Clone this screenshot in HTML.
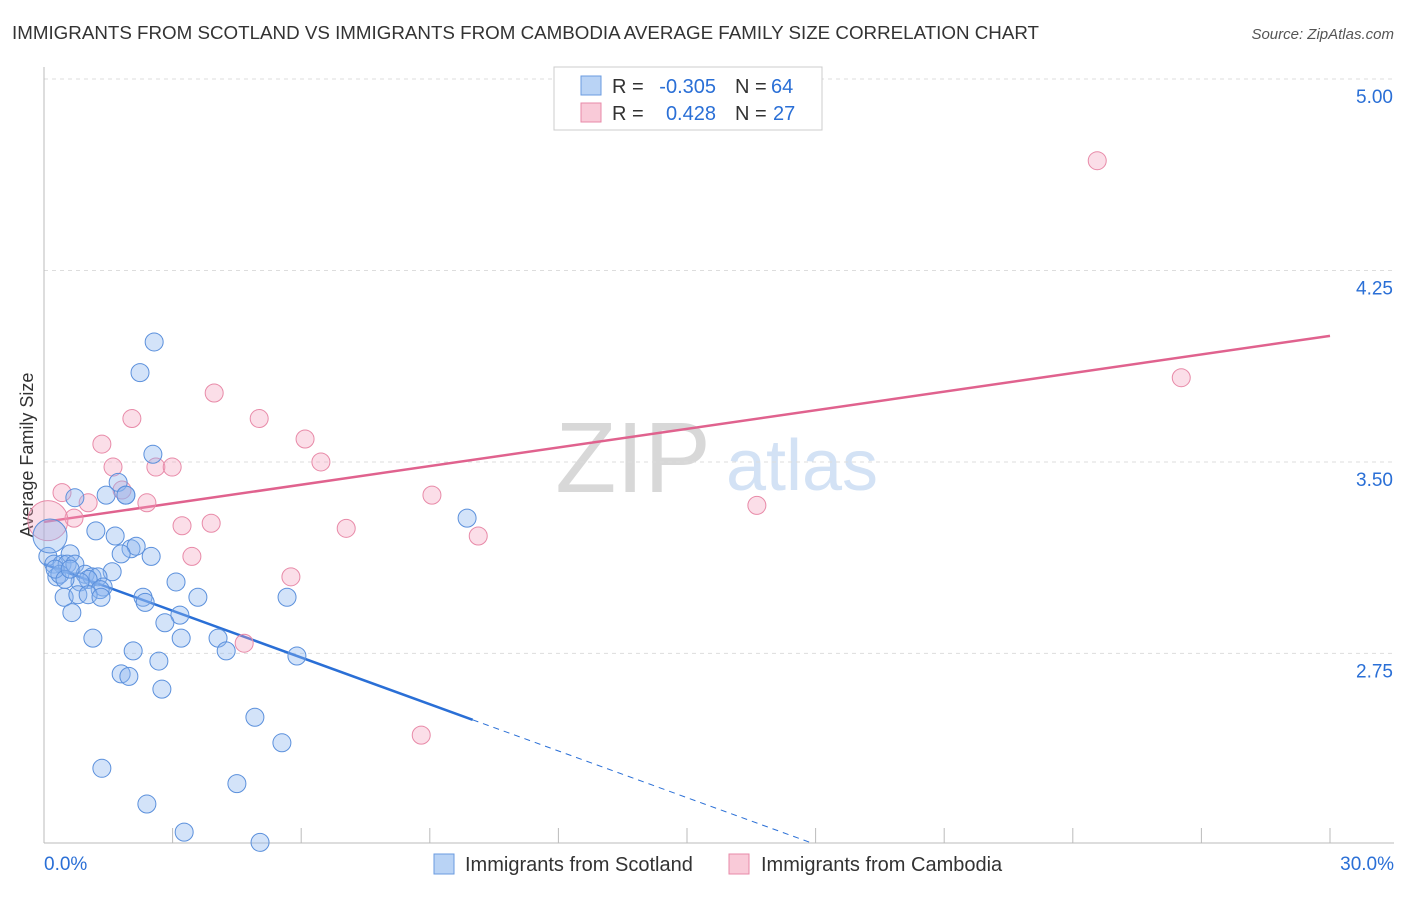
<!DOCTYPE html>
<html><head><meta charset="utf-8"><style>
body{margin:0;background:#fff;font-family:"Liberation Sans",sans-serif}
svg text{font-family:"Liberation Sans",sans-serif}
</style></head><body>
<svg width="1406" height="892">
<text x="12" y="39" font-size="18.5" fill="#333" textLength="1027" lengthAdjust="spacingAndGlyphs">IMMIGRANTS FROM SCOTLAND VS IMMIGRANTS FROM CAMBODIA AVERAGE FAMILY SIZE CORRELATION CHART</text>
<text x="1394" y="39" font-size="15" fill="#555" text-anchor="end" font-style="italic">Source: ZipAtlas.com</text>
<text x="33" y="455" font-size="18" fill="#333" text-anchor="middle" transform="rotate(-90 33 455)">Average Family Size</text>
<g><text x="633" y="492" font-size="100" fill="#d8d8d8" font-family="Liberation Serif" text-anchor="middle">ZIP</text><text x="802" y="490" font-size="72" fill="#d3e2f5" text-anchor="middle">atlas</text></g>
<g id="grid"></g><g id="axes"></g><g id="trends"></g><g id="dots"></g>
<g>
<rect x="554" y="67" width="268" height="63" fill="#fff" stroke="#ccc"/>
<rect x="581" y="76" width="20" height="19" fill="#b9d3f5" stroke="#6a9be0"/>
<rect x="581" y="103" width="20" height="19" fill="#f9cad8" stroke="#e88aa8"/>
<text x="612" y="93" font-size="20" fill="#333">R =</text>
<text x="716" y="93" font-size="20" fill="#2a6fd6" text-anchor="end">-0.305</text>
<text x="735" y="93" font-size="20" fill="#333">N =</text>
<text x="771" y="93" font-size="20" fill="#2a6fd6">64</text>
<text x="612" y="120" font-size="20" fill="#333">R =</text>
<text x="716" y="120" font-size="20" fill="#2a6fd6" text-anchor="end">0.428</text>
<text x="735" y="120" font-size="20" fill="#333">N =</text>
<text x="773" y="120" font-size="20" fill="#2a6fd6">27</text>
</g>
<g>
<rect x="434" y="854" width="20" height="20" fill="#b9d3f5" stroke="#6a9be0"/>
<text x="465" y="871" font-size="20" fill="#333">Immigrants from Scotland</text>
<rect x="729" y="854" width="20" height="20" fill="#f9cad8" stroke="#e88aa8"/>
<text x="761" y="871" font-size="20" fill="#333">Immigrants from Cambodia</text>
</g>
</svg>
<script>
const yTicks=[5.00,4.25,3.50,2.75];
const xTickLabels=["0.0%","30.0%"];
const blueX=[2.57,2.24,2.54,1.73,1.91,1.91,0.72,1.45,1.21,1.66,2.03,2.15,1.80,2.50,0.09,0.23,0.42,0.61,0.54,0.72,0.96,0.30,1.59,1.12,1.26,1.03,0.84,1.38,1.31,0.47,0.79,1.03,1.33,2.31,2.36,3.08,3.59,0.65,3.17,2.82,3.20,1.14,4.06,4.25,5.90,2.08,2.68,1.80,1.98,2.75,5.67,9.87,4.92,5.55,1.35,4.50,2.40,3.27,5.04,0.37,0.26,0.49,0.61,0.14];
const blueY=[3.97,3.85,3.53,3.42,3.37,3.37,3.36,3.37,3.23,3.21,3.16,3.17,3.14,3.13,3.13,3.10,3.10,3.14,3.10,3.10,3.06,3.05,3.07,3.05,3.05,3.04,3.03,3.01,3.00,2.97,2.98,2.98,2.97,2.97,2.95,3.03,2.97,2.91,2.90,2.87,2.81,2.81,2.81,2.76,2.74,2.76,2.72,2.67,2.66,2.61,2.97,3.28,2.50,2.40,2.30,2.24,2.16,2.05,2.01,3.06,3.08,3.04,3.08,3.21];
const blueR=[9,9,9,9,9,9,9,9,9,9,9,9,9,9,9,9,9,9,9,9,9,9,9,9,9,9,9,9,9,9,9,9,9,9,9,9,9,9,9,9,9,9,9,9,9,9,9,9,9,9,9,9,9,9,9,9,9,9,9,9,9,9,9,17];
const pinkX=[24.57,26.53,3.97,2.05,5.02,1.35,6.09,1.61,2.61,2.99,6.46,0.42,1.03,2.40,9.05,0.70,3.22,3.90,7.05,16.63,10.13,3.45,5.76,4.67,8.80,1.82,0.09];
const pinkY=[4.68,3.83,3.77,3.67,3.67,3.57,3.59,3.48,3.48,3.48,3.50,3.38,3.34,3.34,3.37,3.28,3.25,3.26,3.24,3.33,3.21,3.13,3.05,2.79,2.43,3.39,3.27];
const pinkR=[9,9,9,9,9,9,9,9,9,9,9,9,9,9,9,9,9,9,9,9,9,9,9,9,9,9,20];
const blueTrend=[3.10,-0.061];
const pinkTrend=[3.265,0.0243];
const NS="http://www.w3.org/2000/svg";
const X=v=>44+v/30*1286;
const Y=v=>79+(5-v)*255.3;
function mk(p,t,a){const e=document.createElementNS(NS,t);for(const k in a)e.setAttribute(k,a[k]);p.appendChild(e);return e;}
const grid=document.getElementById('grid'),axes=document.getElementById('axes'),tr=document.getElementById('trends'),dots=document.getElementById('dots');
yTicks.forEach(t=>{
 const l=mk(grid,'line',{x1:44,x2:1394,y1:Y(t),y2:Y(t),stroke:'#ddd','stroke-dasharray':'4,4'});
 
 
 const tx=mk(axes,'text',{x:1393,y:Y(t)+24,'font-size':19,fill:'#2a6fd6','text-anchor':'end'});
 tx.textContent=t.toFixed(2);
 
 
});
const ax=mk(axes,'line',{x1:44,x2:44,y1:67,y2:843,stroke:'#bbb'});


const bx=mk(axes,'line',{x1:44,x2:1394,y1:843,y2:843,stroke:'#bbb'});


for(let i=1;i<=10;i++){const t=mk(axes,'line',{x1:X(i*3),x2:X(i*3),y1:828,y2:843,stroke:'#bbb'});
 
 }
[[0,'start',44],[30,'end',1394]].forEach((o,i)=>{const t=mk(axes,'text',{x:o[2],y:870,'font-size':19,fill:'#2a6fd6','text-anchor':o[1]});t.textContent=xTickLabels[i];
 
 });
const bEnd=10.0, bZero=(2.01-blueTrend[0])/blueTrend[1];
const b1=mk(tr,'line',{x1:X(0),y1:Y(blueTrend[0]),x2:X(bEnd),y2:Y(blueTrend[0]+blueTrend[1]*bEnd),stroke:'#2a6fd6','stroke-width':2.5});


const b2=mk(tr,'line',{x1:X(bEnd),y1:Y(blueTrend[0]+blueTrend[1]*bEnd),x2:X(bZero),y2:Y(2.01),stroke:'#2a6fd6','stroke-width':1,'stroke-dasharray':'6,5'});


const p1=mk(tr,'line',{x1:X(0),y1:Y(pinkTrend[0]),x2:X(30),y2:Y(pinkTrend[0]+pinkTrend[1]*30),stroke:'#e0628e','stroke-width':2.5});


pinkX.forEach((x,i)=>{const c=mk(dots,'circle',{cx:X(x),cy:Y(pinkY[i]),r:pinkR[i],fill:'rgba(244,160,190,0.35)',stroke:'#e88aa8','stroke-width':1});
 
 });
blueX.forEach((x,i)=>{const c=mk(dots,'circle',{cx:X(x),cy:Y(blueY[i]),r:blueR[i],fill:'rgba(140,182,238,0.38)',stroke:'#5b90dc','stroke-width':1});
 
 });
</script>
</body></html>
